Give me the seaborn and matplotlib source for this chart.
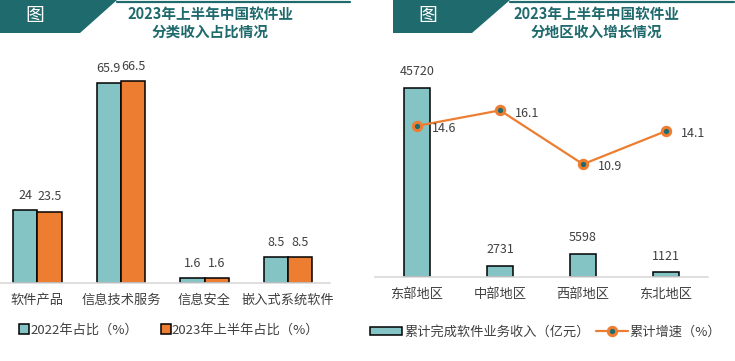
import pandas as pd
import matplotlib.pyplot as plt
import seaborn as sns
from matplotlib.patches import Patch, Polygon
from matplotlib.lines import Line2D

# data
categories = ["软件产品", "信息技术服务", "信息安全", "嵌入式系统软件"]
share_2022 = [24, 65.9, 1.6, 8.5]
share_2023h1 = [23.5, 66.5, 1.6, 8.5]
share_series = ["2022年占比（%）", "2023年上半年占比（%）"]

regions = ["东部地区", "中部地区", "西部地区", "东北地区"]
revenue = [45720, 2731, 5598, 1121]
growth = [14.6, 16.1, 10.9, 14.1]
revenue_name = "累计完成软件业务收入（亿元）"
growth_name = "累计增速（%）"

teal = "#84C4C4"
orange = "#ED7D31"
dark = "#1F6A6D"
txt = "#404040"

sns.set_style("white")
plt.rcParams["font.family"] = ["Noto Sans CJK SC", "DejaVu Sans"]

W, H = 735, 361
fig = plt.figure(figsize=(W / 100, H / 100), dpi=100)


def fx(x, y):
    return (x / W, 1 - y / H)


def rect(left, top, right, bottom):
    return [left / W, 1 - bottom / H, (right - left) / W, (bottom - top) / H]


# ---- left chart: share by category
ax1 = fig.add_axes(rect(0, 70.7, 330, 282.7))
df1 = pd.DataFrame({
    "cat": categories * 2,
    "val": share_2022 + share_2023h1,
    "series": [share_series[0]] * 4 + [share_series[1]] * 4,
})
sns.barplot(data=df1, x="cat", y="val", hue="series", palette=[teal, orange],
            saturation=1, width=0.58, edgecolor="black", linewidth=1.1,
            ax=ax1, legend=False)
ax1.set_ylim(0, 70)
ax1.set_xlim(-0.446, 3.5)
for cont in ax1.containers:
    ax1.bar_label(cont, labels=[f"{v:g}" for v in cont.datavalues],
                  padding=6, fontsize=9, color=txt)

# ---- right chart: revenue by region + growth
ax2 = fig.add_axes(rect(375.5, 70, 707.5, 277))
sns.barplot(x=regions, y=revenue, color=teal, saturation=1, width=0.31,
            edgecolor="black", linewidth=1.1, ax=ax2)
ax2.set_ylim(0, 50000)
ax2.bar_label(ax2.containers[0], labels=[str(v) for v in revenue],
              padding=7, fontsize=9, color=txt)

ax3 = ax2.twinx()
sns.pointplot(x=regions, y=growth, color=orange, ax=ax3,
              linewidth=1.6, markersize=6, markerfacecolor=dark,
              markeredgecolor=orange, markeredgewidth=2.2)
ax3.set_ylim(0, 20)
ax2.set_xlim(-0.5, 3.5)
for i, g in enumerate(growth):
    ax3.annotate(f"{g:g}", (i, g), xytext=(11, -2), textcoords="offset points",
                 ha="left", va="center", fontsize=9, color=txt)

for ax in (ax1, ax2, ax3):
    ax.set_xlabel("")
    ax.set_ylabel("")
    ax.set_yticks([])
    for s in ax.spines.values():
        s.set_visible(False)
for ax in (ax1, ax2):
    ax.spines["bottom"].set_visible(True)
    ax.spines["bottom"].set_color("#D9D9D9")
    ax.spines["bottom"].set_linewidth(1.2)
    ax.tick_params(axis="x", length=0, pad=8, labelsize=9.5, labelcolor=txt)

# legends
h1 = [Patch(facecolor=teal, edgecolor="black", linewidth=1.1),
      Patch(facecolor=orange, edgecolor="black", linewidth=1.1)]
fig.legend(h1, share_series, loc="center left", bbox_to_anchor=fx(14, 330),
           ncol=2, frameon=False, fontsize=9.5, labelcolor=txt,
           handlelength=0.75, handleheight=0.75, handletextpad=0.1,
           columnspacing=1.7, borderaxespad=0)
h2 = [Patch(facecolor=teal, edgecolor="black", linewidth=1.1),
      Line2D([], [], color=orange, lw=1.6, marker="o", markersize=6,
             markerfacecolor=dark, markeredgecolor=orange, markeredgewidth=2.2)]
fig.legend(h2, [revenue_name, growth_name], loc="center left",
           bbox_to_anchor=fx(365, 332), ncol=2, frameon=False, fontsize=9.5,
           labelcolor=txt, handlelength=2.4, handleheight=0.6,
           handletextpad=0.15, columnspacing=0.5, borderaxespad=0)

# header banners
for x0, xt, xb, xend, cx, title in [
        (0, 117, 80, 350, 210, ["2023年上半年中国软件业", "分类收入占比情况"]),
        (393, 510, 472, 734, 596, ["2023年上半年中国软件业", "分地区收入增长情况"])]:
    fig.add_artist(Polygon([fx(x0, 0), fx(xt, 0), fx(xb, 33), fx(x0, 33)],
                           closed=True, facecolor=dark, edgecolor="none",
                           transform=fig.transFigure))
    fig.add_artist(Line2D([xt / W, xend / W], [1 - 1.5 / H] * 2, color=dark,
                          lw=1.6, transform=fig.transFigure))
    fig.text(*fx(x0 + 35 if x0 else 35, 16), "图", color="white", fontsize=13.5,
             ha="center", va="center")
    fig.text(*fx(cx, 14), title[0], color=dark, fontsize=10.5,
             fontweight="bold", ha="center", va="center")
    fig.text(*fx(cx, 32), title[1], color=dark, fontsize=10.5,
             fontweight="bold", ha="center", va="center")

fig.savefig("out.png", dpi=100)
